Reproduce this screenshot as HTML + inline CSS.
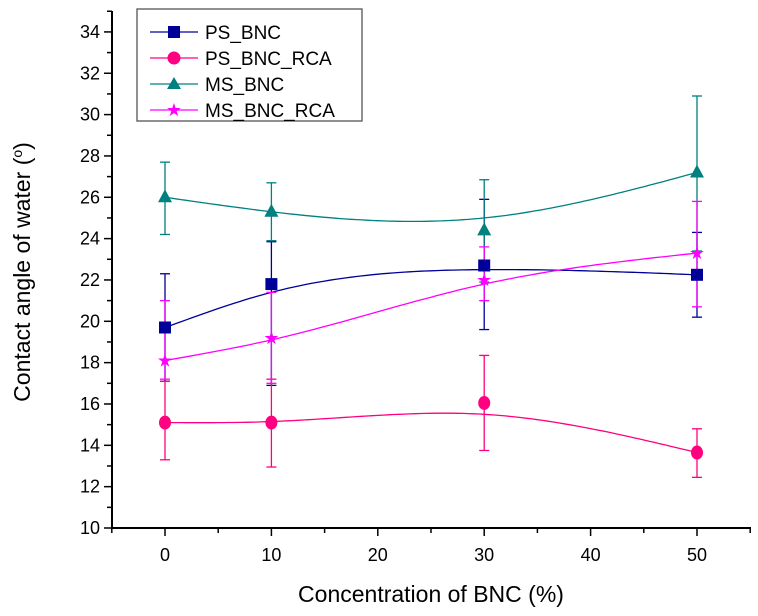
<!DOCTYPE html>
<html><head><meta charset="utf-8"><style>
body{margin:0;background:#fff;}
svg{display:block;font-family:"Liberation Sans",Arial,sans-serif;}
</style></head><body>
<svg id="s" width="758" height="616" viewBox="0 0 758 616" xmlns="http://www.w3.org/2000/svg">
<g id="axes" stroke="#000" stroke-width="2" fill="none">
<line x1="112" y1="11" x2="112" y2="528"/>
<line x1="111" y1="528" x2="751" y2="528"/>
</g>
<g id="ticks" stroke="#000" stroke-width="1.5"></g>
<g id="ylab" font-size="18" text-anchor="end" fill="#000"></g>
<g id="xlab" font-size="18" text-anchor="middle" fill="#000"></g>
<text x="431" y="602" font-size="23" text-anchor="middle">Concentration of BNC (%)</text>
<text transform="translate(30,272) rotate(-90)" font-size="23" text-anchor="middle">Contact angle of water (<tspan font-size="14" dy="-8">o</tspan><tspan dy="8">)</tspan></text>
<g id="data"></g>
<rect x="137" y="9" width="225" height="112" fill="#fff" stroke="#555" stroke-width="1.3"/>
<g font-size="19" fill="#000">
<line x1="150" y1="32" x2="198" y2="32" stroke="#000099" stroke-width="1.3"/><rect x="168" y="26" width="12" height="12" fill="#000099"/><text x="205" y="39">PS_BNC</text>
<line x1="150" y1="58" x2="198" y2="58" stroke="#ff0080" stroke-width="1.3"/><circle cx="174" cy="58" r="6.5" fill="#ff0080"/><text x="205" y="65">PS_BNC_RCA</text>
<line x1="150" y1="84" x2="198" y2="84" stroke="#008080" stroke-width="1.3"/><polygon points="174,77 181,89 167,89" fill="#008080"/><text x="205" y="91">MS_BNC</text>
<line x1="150" y1="110" x2="198" y2="110" stroke="#ff00ff" stroke-width="1.3"/><text x="174" y="116" font-size="18" fill="#ff00ff" text-anchor="middle">★</text><text x="205" y="117">MS_BNC_RCA</text>
</g>
</svg>
<script>
var NS="http://www.w3.org/2000/svg";
function X(v){return 165+v*10.64;}
function Y(v){return 528-(v-10)*20.67;}
function el(t,a,p){var e=document.createElementNS(NS,t);for(var k in a)e.setAttribute(k,a[k]);p.appendChild(e);return e;}
var tk=document.getElementById('ticks'),yl=document.getElementById('ylab'),xl=document.getElementById('xlab');
for(var v=10;v<=35;v++){var y=Y(v);var maj=v%2==0;el('line',{x1:maj?104:107,y1:y,x2:112,y2:y},tk);
 if(maj){var t=el('text',{x:100,y:y+6},yl);t.textContent=v;}}
for(var v=-5;v<=55;v+=5){var x=X(v);var maj=v%10==0;el('line',{x1:x,y1:528,x2:x,y2:maj?536:533},tk);
 if(maj&&v>=0&&v<=50){var t=el('text',{x:x,y:561},xl);t.textContent=v;}}
var xs=[0,10,30,50];
var S=[
{c:"#000099",m:"sq",y:[19.7,21.8,22.7,22.25],cy:[19.7,21.4,22.5,22.25],hi:[22.3,23.85,25.9,24.3],lo:[17.1,16.9,19.6,20.2]},
{c:"#ff0080",m:"ci",y:[15.1,15.1,16.05,13.65],cy:[15.1,15.15,15.5,13.65],hi:[17.1,17.2,18.35,14.8],lo:[13.3,12.95,13.75,12.45]},
{c:"#008080",m:"tr",y:[26.0,25.3,24.4,27.2],cy:[26.0,25.3,25.0,27.2],hi:[27.7,26.7,26.85,30.9],lo:[24.2,23.9,21.9,23.4]},
{c:"#ff00ff",m:"st",y:[18.1,19.2,22.0,23.3],cy:[18.1,19.1,21.8,23.3],hi:[21.0,21.4,23.6,25.8],lo:[17.2,17.0,21.0,20.7]}];
function spline(x,y){var n=x.length,h=[],a=[],l=[1],mu=[0],z=[0],c=new Array(n).fill(0),b=[],d=[];
 for(var i=0;i<n-1;i++)h[i]=x[i+1]-x[i];
 for(var i=1;i<n-1;i++)a[i]=3/h[i]*(y[i+1]-y[i])-3/h[i-1]*(y[i]-y[i-1]);
 for(var i=1;i<n-1;i++){l[i]=2*(x[i+1]-x[i-1])-h[i-1]*mu[i-1];mu[i]=h[i]/l[i];z[i]=(a[i]-h[i-1]*z[i-1])/l[i];}
 for(var j=n-2;j>=0;j--){c[j]=(j>0?z[j]-mu[j]*c[j+1]:0);b[j]=(y[j+1]-y[j])/h[j]-h[j]*(c[j+1]+2*c[j])/3;d[j]=(c[j+1]-c[j])/(3*h[j]);}
 return function(t){var i=0;while(i<n-2&&t>x[i+1])i++;var dx=t-x[i];return y[i]+b[i]*dx+c[i]*dx*dx+d[i]*dx*dx*dx;};}
var g=document.getElementById('data');
S.forEach(function(s){var f=spline(xs,s.cy);var p="";for(var t=0;t<=50;t+=0.5){p+=(t==0?"M":"L")+X(t).toFixed(1)+","+Y(f(t)).toFixed(1);}
 el('path',{d:p,fill:"none",stroke:s.c,"stroke-width":1.3},g);
 xs.forEach(function(xv,i){var x=X(xv);el('line',{x1:x,y1:Y(s.hi[i]),x2:x,y2:Y(s.lo[i]),stroke:s.c,"stroke-width":1.3},g);
  [s.hi[i],s.lo[i]].forEach(function(q){el('line',{x1:x-5,y1:Y(q),x2:x+5,y2:Y(q),stroke:s.c,"stroke-width":1.3},g);});});});
S.forEach(function(s){xs.forEach(function(xv,i){var x=X(xv),y=Y(s.y[i]);
 if(s.m=="sq")el('rect',{x:x-6,y:y-6,width:12,height:12,fill:s.c},g);
 else if(s.m=="ci")el('ellipse',{cx:x,cy:y,rx:6,ry:7,fill:s.c},g);
 else if(s.m=="tr")el('polygon',{points:(x)+","+(y-8)+" "+(x+7)+","+(y+5)+" "+(x-7)+","+(y+5),fill:s.c},g);
 else{var t=el('text',{x:x,y:y+6,"font-size":18,fill:s.c,"text-anchor":"middle"},g);t.textContent="★";}});});
</script>
</body></html>
